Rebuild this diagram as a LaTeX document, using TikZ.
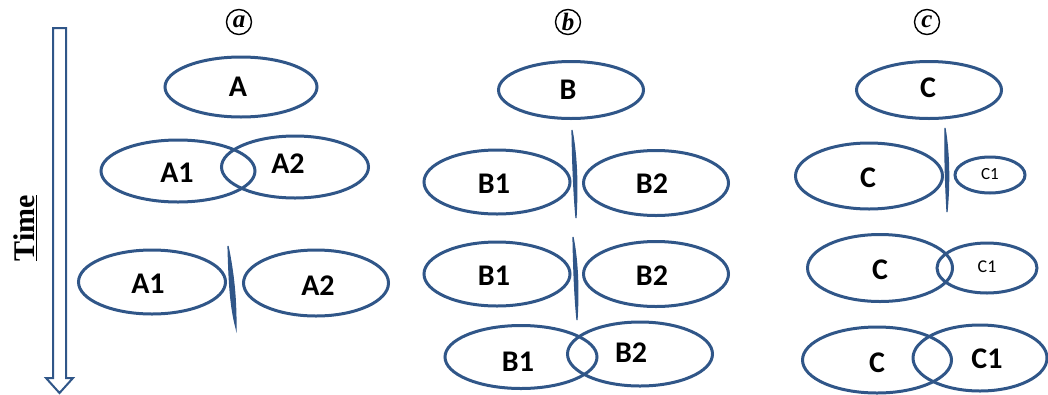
\documentclass[tikz,border=0pt]{standalone}
\usepackage{fontspec}
\setmainfont{Carlito}
\newfontfamily\timesf{Liberation Serif}
\usetikzlibrary{shapes.geometric}
\definecolor{ebl}{RGB}{48,86,136}
\tikzset{
  ell/.style={ellipse, draw=ebl, line width=3pt, inner sep=0pt},
  lbl/.style={font=\bfseries\fontsize{30}{30}\selectfont, text=black, inner sep=0pt},
  slbl/.style={font=\fontsize{18}{18}\selectfont, text=black, inner sep=0pt},
  circ/.style={circle, draw=black, line width=1.4pt, minimum size=25pt, inner sep=0pt,
    font=\timesf\bfseries\itshape\fontsize{25}{25}\selectfont},
  divider/.style={fill=ebl, draw=ebl, line width=1.2pt, line cap=round}
}
\begin{document}
\begin{tikzpicture}[x=1pt,y=-1pt]
\useasboundingbox (0,0) rectangle (1048,394);
% time arrow
\draw[draw=ebl, line width=2pt, fill=white, line join=miter]
  (53,28) -- (66,28) -- (66,378) -- (73,378) -- (59.5,393) -- (46,378) -- (53,378) -- cycle;
\node[rotate=90, font=\timesf\bfseries\fontsize{30}{30}\selectfont, inner sep=0pt] (time) at (25,228) {\underline{Time}};
% column labels
\node[circ] (la) at (239,22) {\raisebox{0.5pt}{a}};
\node[circ] (lb) at (568,22) {\raisebox{0.5pt}{b}};
\node[circ] (lc) at (927,22) {\raisebox{0.5pt}{c}};
% column a
\node[ell, minimum width=152pt, minimum height=60pt] (eA) at (241,87) {};
\node[lbl] (tA) at (238,87) {A};
\node[ell, minimum width=154pt, minimum height=62pt] (eA1a) at (178,171) {};
\node[ell, minimum width=147pt, minimum height=62pt] (eA2a) at (295,167) {};
\node[lbl] (tA1a) at (177,173) {A1};
\node[lbl] (tA2a) at (288,164) {A2};
\node[ell, minimum width=147pt, minimum height=64pt] (eA1b) at (152,282) {};
\node[ell, minimum width=145pt, minimum height=66pt] (eA2b) at (316,283) {};
\node[lbl] (tA1b) at (148,284) {A1};
\node[lbl] (tA2b) at (318,286) {A2};
\path[divider] (228,246) .. controls (235,280) and (236,305) .. (236,328)
   .. controls (230,305) and (229,280) .. cycle;
% column b
\node[ell, minimum width=145pt, minimum height=57pt] (eB) at (571,90) {};
\node[lbl] (tB) at (568,90) {B};
\path[divider] (572,130) .. controls (577.5,160) and (577.5,190) .. (576,218)
   .. controls (573.5,190) and (572.5,160) .. cycle;
\node[ell, minimum width=146pt, minimum height=64pt] (eB1a) at (497,182) {};
\node[ell, minimum width=145pt, minimum height=65pt] (eB2a) at (656,183) {};
\node[lbl] (tB1a) at (494,184) {B1};
\node[lbl] (tB2a) at (652,184) {B2};
\path[divider] (573,237) .. controls (578.5,265) and (578.5,295) .. (577,320)
   .. controls (574.5,295) and (573.5,265) .. cycle;
\node[ell, minimum width=146pt, minimum height=64pt] (eB1b) at (497,274) {};
\node[ell, minimum width=145pt, minimum height=65pt] (eB2b) at (656,274) {};
\node[lbl] (tB1b) at (494,276) {B1};
\node[lbl] (tB2b) at (652,276) {B2};
\node[ell, minimum width=152pt, minimum height=63pt] (eB1c) at (521,357) {};
\node[ell, minimum width=145pt, minimum height=64pt] (eB2c) at (640,354) {};
\node[lbl] (tB1c) at (518,362) {B1};
\node[lbl] (tB2c) at (631,353) {B2};
% column c
\node[ell, minimum width=145pt, minimum height=57pt] (eC) at (929,90) {};
\node[lbl] (tC) at (928,88) {C};
\path[divider] (945,128) .. controls (949.5,155) and (949.5,185) .. (947,212)
   .. controls (945.5,185) and (944.5,155) .. cycle;
\node[ell, minimum width=147pt, minimum height=66pt] (eCa) at (869,176) {};
\node[lbl] (tCa) at (868,178) {C};
\node[ell, minimum width=70pt, minimum height=36pt] (eC1a) at (990,175) {};
\node[slbl, font=\fontsize{17}{17}\selectfont] (tC1a) at (990,174) {C1};
\node[ell, minimum width=145pt, minimum height=67pt] (eCb) at (880,268) {};
\node[lbl] (tCb) at (880,270) {C};
\node[ell, minimum width=100pt, minimum height=50pt] (eC1b) at (987,268) {};
\node[slbl] (tC1b) at (987,267) {C1};
\node[ell, minimum width=149pt, minimum height=66pt] (eCc) at (877,360) {};
\node[ell, minimum width=134pt, minimum height=66pt] (eC1c) at (980,358) {};
\node[lbl] (tCc) at (877,363) {C};
\node[lbl] (tC1c) at (987,359) {C1};
\end{tikzpicture}
\end{document}
